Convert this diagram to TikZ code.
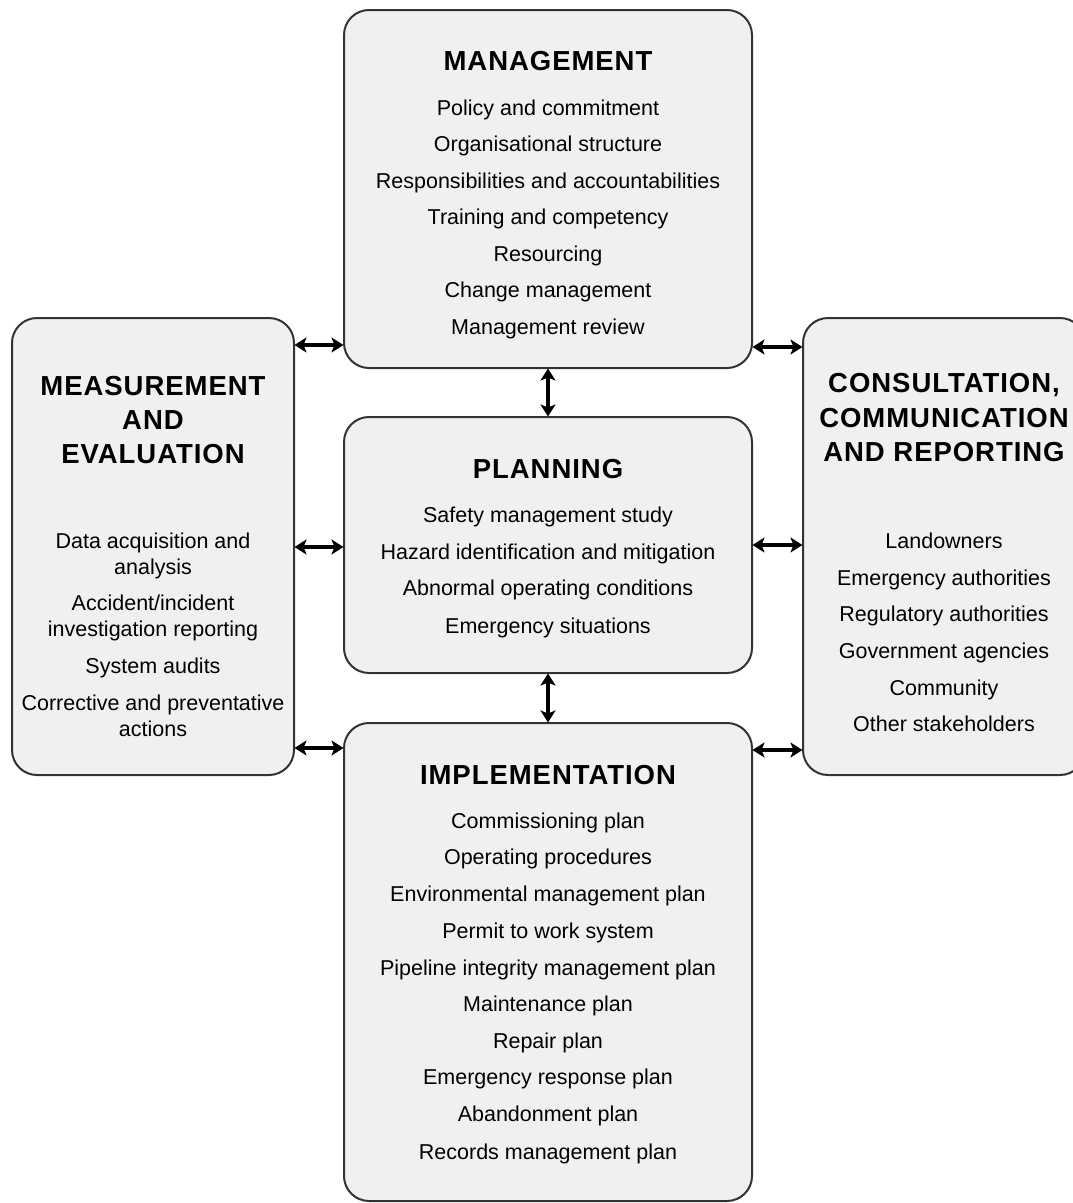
\documentclass[tikz,border=0pt]{standalone}
\usepackage{fontspec}
\setmainfont{Liberation Sans}
\usetikzlibrary{arrows.meta}
\definecolor{boxfill}{HTML}{F0F0F0}
\definecolor{boxline}{HTML}{333333}
\begin{document}
\begin{tikzpicture}[x=1pt,y=1pt,
  panel/.style={draw=boxline, fill=boxfill, line width=2pt, rounded corners=25pt, inner sep=0pt, outer sep=0pt},
  head/.style={font=\fontsize{27.5}{27.5}\selectfont\bfseries\addfontfeatures{LetterSpace=3.5}, anchor=base, inner sep=0pt},
  item/.style={font=\fontsize{21.5}{21.5}\selectfont, anchor=base, inner sep=0pt},
  link/.style={{Stealth[length=12pt,width=15pt,inset=3pt]}-{Stealth[length=12pt,width=15pt,inset=3pt]}, line width=3.5pt, black, shorten <=0.5pt, shorten >=0.5pt}]
\clip (0,0) rectangle (1073,-1203);
\fill[white] (0,0) rectangle (1073,-1203);

% panels
\node[panel, minimum width=408, minimum height=358] (mgmt) at (548,-189) {};
\node[panel, minimum width=408, minimum height=256] (plan) at (548,-545) {};
\node[panel, minimum width=408, minimum height=478] (impl) at (548,-962) {};
\node[panel, minimum width=282, minimum height=457] (meas) at (153,-546.5) {};
\node[panel, minimum width=282, minimum height=457] (cons) at (944,-546.5) {};

% management
\node[head] (mgmtT) at (548,-70) {MANAGEMENT};
\foreach \t [count=\i] in {Policy and commitment, Organisational structure, Responsibilities and accountabilities, Training and competency, Resourcing, Change management, Management review}
  \node[item] (mgmt\i) at (548,{-115-36.5*(\i-1)}) {\t};

% planning
\node[head] (planT) at (548,-478) {PLANNING};
\foreach \t/\y [count=\i] in {Safety management study/514, Hazard identification and mitigation/551, Abnormal operating conditions/587, Emergency situations/625}
  \node[item] (plan\i) at (548,{-\y-8}) {\t};

% implementation
\node[head] (implT) at (548,-784) {IMPLEMENTATION};
\foreach \t/\y [count=\i] in {Commissioning plan/820, Operating procedures/856, Environmental management plan/893, Permit to work system/930, Pipeline integrity management plan/967, Maintenance plan/1003, Repair plan/1040, Emergency response plan/1076, Abandonment plan/1113, Records management plan/1151}
  \node[item] (impl\i) at (548,{-\y-8}) {\t};

% measurement
\foreach \t/\y [count=\i] in {MEASUREMENT/385, AND/419, EVALUATION/453}
  \node[head] (measT\i) at (153,{-\y-10}) {\t};
\foreach \t/\y [count=\i] in {Data acquisition and/540, analysis/566, {Accident/incident}/602, investigation reporting/628, System audits/665, Corrective and preventative/702, actions/728}
  \node[item] (meas\i) at (153,{-\y-8}) {\t};

% consultation
\foreach \t/\y [count=\i] in {{CONSULTATION,}/382, COMMUNICATION/417, AND REPORTING/451}
  \node[head] (consT\i) at (944,{-\y-10}) {\t};
\foreach \t/\y [count=\i] in {Landowners/540, Emergency authorities/577, Regulatory authorities/613, Government agencies/650, Community/687, Other stakeholders/723}
  \node[item] (cons\i) at (944,{-\y-8}) {\t};

% connectors
\draw[link] (meas.east |- 0,-345) -- (mgmt.west |- 0,-345);
\draw[link] (mgmt.east |- 0,-347) -- (cons.west |- 0,-347);
\draw[link] (mgmt.south) -- (plan.north);
\draw[link] (meas.east |- 0,-547) -- (plan.west |- 0,-547);
\draw[link] (plan.east |- 0,-545) -- (cons.west |- 0,-545);
\draw[link] (plan.south) -- (impl.north);
\draw[link] (meas.east |- 0,-748) -- (impl.west |- 0,-748);
\draw[link] (impl.east |- 0,-750) -- (cons.west |- 0,-750);
\end{tikzpicture}
\end{document}
